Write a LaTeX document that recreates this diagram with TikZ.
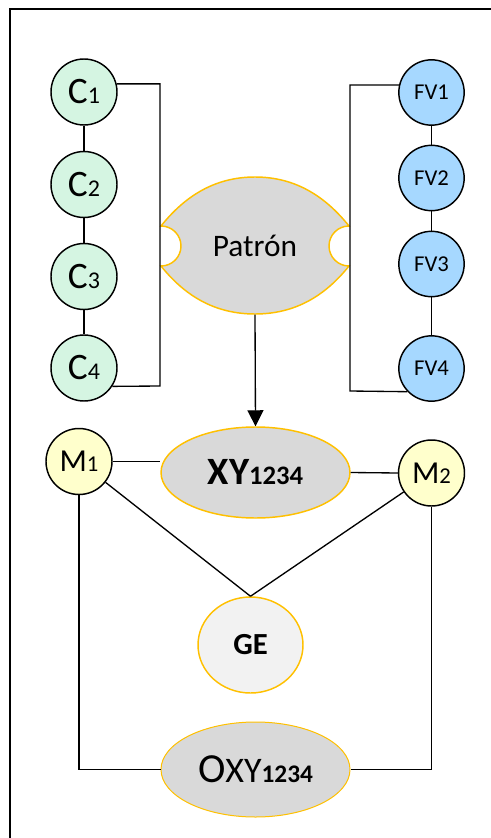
\documentclass[tikz,border=0pt]{standalone}
\usepackage{fontspec}
\setmainfont{Carlito}
\usetikzlibrary{shapes.geometric,arrows.meta}

\definecolor{cgreen}{RGB}{213,245,226}
\definecolor{fvblue}{RGB}{166,216,255}
\definecolor{myellow}{RGB}{255,255,204}
\definecolor{pgray}{RGB}{217,217,217}
\definecolor{gelight}{RGB}{242,242,242}
\definecolor{porange}{RGB}{255,192,0}

\newcommand{\bigsmall}[4]{{\fontsize{#1}{#1}\selectfont #3}{\fontsize{#2}{#2}\selectfont #4}}

\tikzset{every picture/.style={line width=1pt}}
\tikzset{
  cnode/.style={circle,draw,line width=1.1pt,fill=cgreen,minimum size=49.5pt,inner sep=0pt},
  fvnode/.style={circle,draw,line width=1.1pt,fill=fvblue,minimum size=49pt,inner sep=0pt,font=\fontsize{17}{17}\selectfont},
  mnode/.style={circle,draw,line width=1.1pt,fill=myellow,minimum size=49.5pt,inner sep=0pt},
  oval/.style={ellipse,draw=porange,line width=1.1pt,fill=pgray,inner sep=0pt},
}

\begin{document}
\begin{tikzpicture}[x=0.75pt,y=0.75pt,yscale=-1,xscale=1]
		\clip (0,0) rectangle (491,838);

		%Shape: Rectangle (frame)
		\draw [line width=1.2pt] (10,9) rectangle (520,870) ;

		%Shape: Patron
		\draw [draw=porange,fill=pgray,line width=1.1pt] (161,226) .. controls (185,196) and (215,177) .. (255,177) .. controls (295,177) and (325,196) .. (349,226) arc (270:90:20) .. controls (325,296) and (295,314) .. (255,314) .. controls (215,314) and (185,296) .. (161,266) arc (90:-90:20) -- cycle ;

		% Text Node
		\node [inner sep=0pt,minimum width=141pt,minimum height=102.75pt,font=\fontsize{23.5}{23.5}\selectfont] (pat) at (255,245.5) {Patrón};

		%Shape: Circles C
		\node [cnode] (c1) at (84,92) {\bigsmall{28}{18}{C}{1}};
		\node [cnode] (c2) at (84,184.5) {\bigsmall{28}{18}{C}{2}};
		\node [cnode] (c3) at (84,276.5) {\bigsmall{28}{18}{C}{3}};
		\node [cnode] (c4) at (84,368) {\bigsmall{28}{18}{C}{4}};

		%Shape: Circles FV
		\node [fvnode] (fv1) at (431.5,92.5) {FV1};
		\node [fvnode] (fv2) at (431.5,178) {FV2};
		\node [fvnode] (fv3) at (431.5,264) {FV3};
		\node [fvnode] (fv4) at (431.5,368.5) {FV4};

		%Shape: Ellipses
		\node [oval,minimum width=141.75pt,minimum height=68.25pt] (xy) at (255.5,472.5) {\bfseries\bigsmall{29}{20}{XY}{1234}};
		\node [oval,fill=gelight,minimum width=78.75pt,minimum height=72pt,font=\bfseries\fontsize{23}{23}\selectfont] (ge) at (250.5,645) {GE};
		\node [oval,line width=0.75pt,minimum width=141.75pt,minimum height=71.25pt] (oxy) at (255.5,769.5) {{\fontsize{31}{31}\selectfont O}{\fontsize{27}{27}\selectfont XY}{\bfseries\fontsize{19}{19}\selectfont 1234}};

		%Shape: Circles M
		\node [mnode] (m1) at (79,461.5) {\bigsmall{24}{17}{M}{1}};
		\node [mnode] (m2) at (431.5,473) {\bigsmall{24}{17}{M}{2}};

		\coordinate (lbb) at (160,386);
		\coordinate (rbb) at (350,391);

		%Straight Lines
		\draw (c1) -- (c2) -- (c3) -- (c4) ;
		\draw (fv1) -- (fv2) -- (fv3) -- (fv4) ;
		\draw (c1.14) -| (lbb) -- (c4.-33) ;
		\draw (fv1.167) -| (rbb) -- (fv4.224) ;
		\draw [-{Triangle[length=12pt,width=12pt]}] (pat.south) -- (xy.north) ;
		\draw (m1.east) -- (xy.west |- m1.east) ;
		\draw (xy.east) -- (m2.west) ;
		\draw (m1) -- (ge.north) ;
		\draw (m2) -- (ge.north) ;
		\draw (m1.south) |- (oxy.west) ;
		\draw (m2.south) |- (oxy.east) ;

	\end{tikzpicture}
\end{document}
